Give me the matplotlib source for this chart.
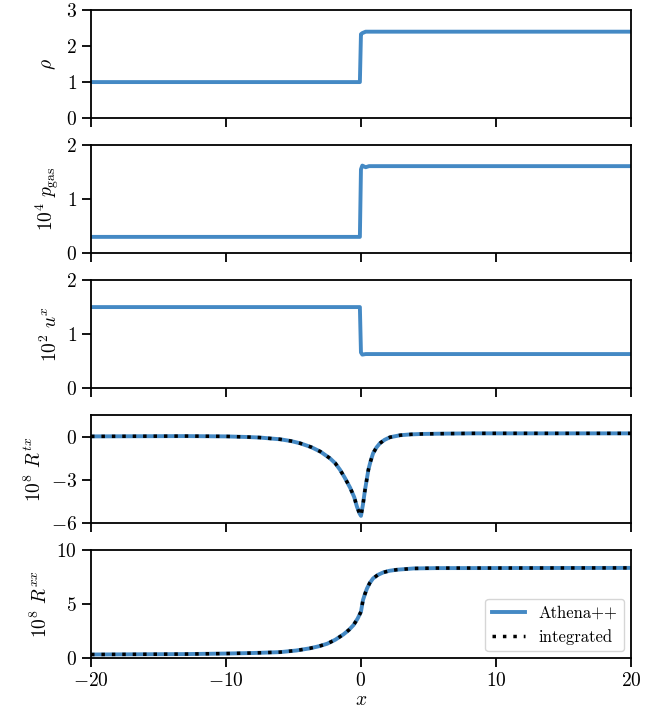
import numpy as np
import matplotlib
matplotlib.use("Agg")
import matplotlib.pyplot as plt

plt.rcParams['font.family'] = 'serif'
plt.rcParams['font.serif'] = ['cmr10']
plt.rcParams['mathtext.fontset'] = 'cm'
plt.rcParams['axes.formatter.use_mathtext'] = True
plt.rcParams['font.size'] = 14
plt.rcParams['axes.linewidth'] = 1.3
plt.rcParams['xtick.major.width'] = 1.3
plt.rcParams['ytick.major.width'] = 1.3
plt.rcParams['xtick.major.size'] = 6.5
plt.rcParams['ytick.major.size'] = 6.5

## Shock profiles #######################################################################
x_gas = [-20.0, -0.08, 0.0, 0.1, 0.35, 0.6, 20.0]
rho = [1.0, 1.0, 2.33, 2.36, 2.40, 2.40, 2.40]
p_gas = [0.30, 0.30, 1.55, 1.62, 1.59, 1.61, 1.61]
u_x = [1.50, 1.50, 0.66, 0.62, 0.63, 0.63, 0.63]

x_rad = [-20.0, -13.0, -10.0, -8.5, -7.5, -6.0, -5.2, -4.5, -3.7, -3.0, -2.3,
         -1.9, -1.55, -1.2, -0.8, -0.5, -0.3, -0.12, 0.0, 0.15, 0.3, 0.55,
         0.7, 0.9, 1.15, 1.4, 1.75, 2.15, 2.9, 3.7, 4.6, 6.0, 8.3, 20.0]
R_tx = [0.02, 0.04, 0.02, -0.02, -0.06, -0.18, -0.30, -0.46, -0.72, -1.04, -1.5,
        -1.85, -2.3, -2.85, -3.55, -4.2, -4.85, -5.3, -5.5, -4.7, -3.7, -2.3,
        -1.75, -1.15, -0.75, -0.46, -0.22, -0.04, 0.10, 0.16, 0.19, 0.21, 0.23, 0.23]

x_rxx = [-20.0, -13.0, -10.0, -8.0, -6.0, -4.8, -3.8, -3.1, -2.5, -1.9, -1.3,
         -0.9, -0.55, -0.25, 0.0, 0.15, 0.3, 0.45, 0.65, 0.9, 1.25, 1.65,
         2.1, 2.65, 3.9, 5.6, 20.0]
R_xx = [0.33, 0.37, 0.42, 0.47, 0.55, 0.70, 0.90, 1.10, 1.33, 1.70, 2.19,
        2.60, 3.06, 3.65, 4.29, 5.37, 5.95, 6.45, 6.95, 7.38, 7.70, 7.93,
        8.08, 8.18, 8.30, 8.33, 8.35]

blue = '#4489c4'

fig, axes = plt.subplots(5, 1, figsize=(6.62, 7.2), dpi=100, sharex=True)
fig.subplots_adjust(left=0.1375, right=0.953, top=0.986, bottom=0.086, hspace=0.25)

axes[0].plot(x_gas, rho, color=blue, lw=2.8)
axes[0].set(ylim=(0, 3), yticks=[0, 1, 2, 3])
axes[0].set_ylabel(r'$\rho$', labelpad=6)

axes[1].plot(x_gas, p_gas, color=blue, lw=2.8)
axes[1].set(ylim=(0, 2), yticks=[0, 1, 2])
axes[1].set_ylabel(r'$10^4\ p_\mathrm{gas}$')

axes[2].plot(x_gas, u_x, color=blue, lw=2.8)
axes[2].set(ylim=(0, 2), yticks=[0, 1, 2])
axes[2].set_ylabel(r'$10^2\ u^x$')

axes[3].plot(x_rad, R_tx, color=blue, lw=2.8)
axes[3].plot(x_rad, R_tx, color='k', lw=2.5, ls=(0, (1, 2)))
axes[3].set(ylim=(-6, 1.5), yticks=[-6, -3, 0])
axes[3].set_ylabel(r'$10^8\ R^{tx}$')

axes[4].plot(x_rxx, R_xx, color=blue, lw=2.8, label='Athena++')
axes[4].plot(x_rxx, R_xx, color='k', lw=2.5, ls=(0, (1, 2)), label='integrated')
axes[4].set(ylim=(0, 10), yticks=[0, 5, 10])
axes[4].set_ylabel(r'$10^8\ R^{xx}$')
axes[4].legend(loc='lower right', fontsize=12, borderaxespad=0.4)

for ax in axes:
    ax.set_xlim(-20, 20)
    ax.set_xticks([-20, -10, 0, 10, 20])
    ax.tick_params(direction='out', top=False, right=False)
axes[4].set_xlabel(r'$x$', labelpad=1)

fig.savefig('out.png', dpi=100)
